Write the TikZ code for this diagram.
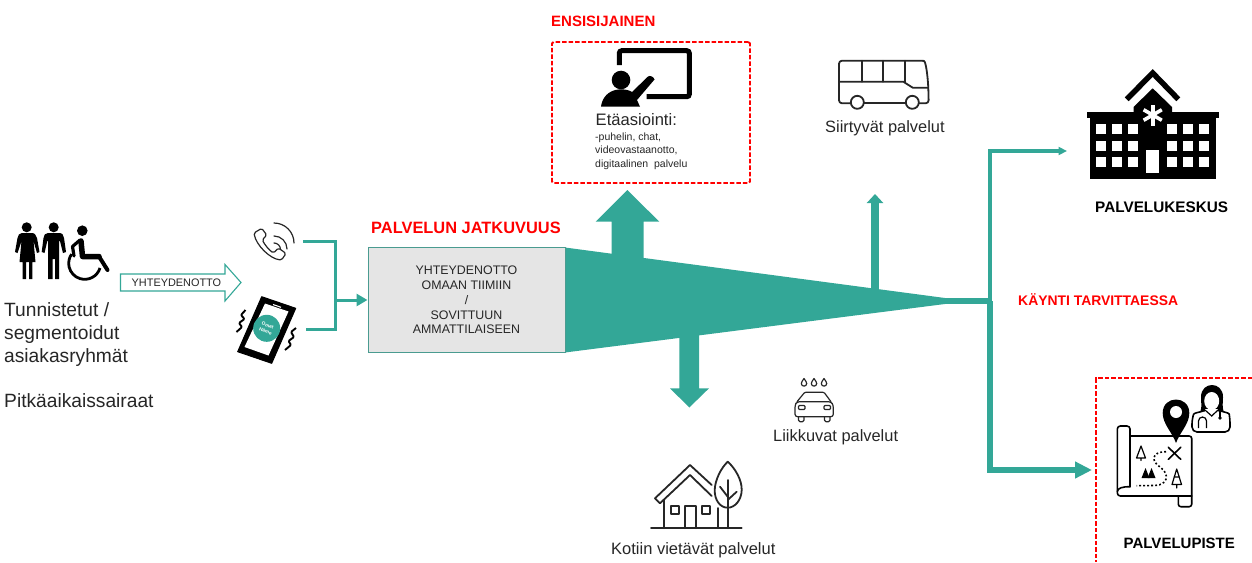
\documentclass[tikz,border=0pt]{standalone}
\usepackage{fontspec}
\setmainfont{Liberation Sans}
\usetikzlibrary{arrows.meta}
\definecolor{tealc}{HTML}{33A797}
\definecolor{txt}{HTML}{262626}
\definecolor{redc}{HTML}{FF0000}
\newcommand{\fsz}[2]{\fontsize{#1}{#2}\selectfont}
\tikzset{
  lbl/.style={inner sep=0pt,anchor=base west,text=txt},
  redlbl/.style={inner sep=0pt,anchor=base west,text=redc,font=\bfseries},
  blacklbl/.style={inner sep=0pt,anchor=base west,text=black,font=\bfseries},
  conn/.style={draw=tealc,line width=#1,line join=miter},
  reddash/.style={draw=redc,line width=1.9,dash pattern=on 4.5 off 2},
  ico/.style={draw=black,line width=1.6,line join=round,line cap=round},
  icothin/.style={draw=txt,line width=1.2,line join=round,line cap=round},
  icomid/.style={draw=txt,line width=1.8,line join=round,line cap=round},
}
\begin{document}
\begin{tikzpicture}[x=1pt,y=-1pt]
\useasboundingbox (0,0) rectangle (1252,562);

% ---------- left texts
\node[lbl,font=\fsz{19.2}{23}] (t1) at (4,316) {Tunnistetut /};
\node[lbl,font=\fsz{19.2}{23}] (t2) at (4,339) {segmentoidut};
\node[lbl,font=\fsz{19.2}{23}] (t3) at (4,362) {asiakasryhmät};
\node[lbl,font=\fsz{19.2}{23}] (t4) at (4,407) {Pitkäaikaissairaat};

% ---------- people
\fill[black] (26.7,227.3) circle (5);
\fill[black] (22,233) -- (31.5,233) .. controls (35,233) and (36,235) .. (37,238) -- (39.5,252) -- (37,253) -- (33.5,241) -- (35.5,262) -- (32.3,262) -- (32.3,279) -- (29,279) -- (29,262) -- (26,262) -- (26,279) -- (22.7,279) -- (22.7,262) -- (19.5,262) -- (21.5,241) -- (17.5,253) -- (15,252) -- (17.5,238) .. controls (18,235) and (19.5,233) .. (22,233) -- cycle;
\fill[black] (53.7,227.3) circle (5);
\fill[black] (48,233) -- (59,233) .. controls (62.5,233) and (63.5,235) .. (64,238) -- (66,252) -- (63,253) -- (60,241) -- (59,241) -- (59,279) -- (55,279) -- (55,259) -- (52.5,259) -- (52.5,279) -- (48,279) -- (48,241) -- (47.3,241) -- (44.5,253) -- (41.7,252) -- (43.5,238) .. controls (44,235) and (45,233) .. (48,233) -- cycle;
\fill[black] (82.3,230.7) circle (5.3);
\draw[black,line width=5.5,line join=round,line cap=round] (81,241) -- (82.5,256.5) -- (99,256.5);
\draw[black,line width=4,line join=round,line cap=round] (99,256.5) -- (107.5,270);
\draw[black,line width=3.2,line join=round,line cap=round] (80,240) -- (72.5,246.5) -- (74,256);
\draw[black,line width=2.8] (100,268) arc (17:215:16);

% ---------- contact arrow
\draw[draw=tealc,fill=white,line width=1.1] (120.5,274) -- (225,274) -- (225,264.5) -- (241,282.5) -- (225,301) -- (225,291) -- (120.5,291) -- cycle;
\node[lbl,font=\fsz{10.9}{13}] (ytd) at (131.5,286.5) {YHTEYDENOTTO};

% ---------- phone
\draw[icothin,rounded corners=1.6] (261.7,228.3) -- (266.7,235) -- (262.3,240) .. controls (265,245) and (269,250) .. (273.5,253) -- (278.5,248) -- (286,253.5) -- (281.5,260) .. controls (270,259) and (256,245) .. (254,233) -- cycle;
\draw[icothin] (274,243) arc (270:360:6.5);
\draw[icothin] (274,236) arc (270:360:13);
\draw[icothin] (274,223) arc (270:360:20);

% ---------- smartphone
\draw[black,fill=black,line width=1,line join=round] (261.7,296.7) -- (295.7,308.3) -- (271.7,363.3) -- (237.7,351.7) -- cycle;
\fill[white] (265,303.5) -- (288.5,311.5) -- (268.5,355.5) -- (244.5,347) -- cycle;
\draw[white,line width=1.1] (273,304.5) -- (281,307.3);
\fill[tealc] (266.7,328.3) circle (13.5);
\node[inner sep=0pt,rotate=-20,text=white,align=center,font=\fsz{4.8}{6.4}\bfseries] (omat) at (266.7,328.3) {Omat\\Häme};
\draw[black,line width=1.9,line join=round,rounded corners=1] (245.5,310) -- (241,315) -- (244.5,319) -- (239,323) -- (242,327) -- (236.5,332);
\draw[black,line width=1.9,line join=round,rounded corners=1] (296,328) -- (291,332) -- (294,337) -- (288.5,341) -- (291,345) -- (285,350);

% ---------- main box and wedge
\fill[tealc] (565,247.5) -- (945,298) -- (945,304) -- (565,352.5) -- cycle;
\node[draw=tealc!70!gray,line width=1,fill=black!10,minimum width=197,minimum height=105.5,inner sep=0pt,text=txt,align=center,font=\fsz{12.4}{14.8}] (box) at (466.5,300) {YHTEYDENOTTO\\OMAAN TIIMIIN\\/\\SOVITTUUN\\AMMATTILAISEEN};
\node[redlbl,font=\fsz{16.4}{19}\bfseries] (pj) at (371,233) {PALVELUN JATKUVUUS};

% ---------- bracket connector
\coordinate (ph) at (303,241.5);
\coordinate (sm) at (306,329);
\coordinate (jn) at (335.7,300);
\draw[conn=3] (ph) -| (jn);
\draw[conn=3] (sm) -| (jn);
\draw[conn=3,-{Triangle[length=11pt,width=12pt]}] (jn) -- (box.west);

% ---------- big arrows from wedge
\fill[tealc] (611.7,258) -- (611.7,221.7) -- (595.7,221.7) -- (627.3,190) -- (659.3,221.7) -- (643.7,221.7) -- (643.7,258) -- cycle;
\fill[tealc] (679.3,330) -- (679.3,388.3) -- (670,388.3) -- (689.3,407.5) -- (709,388.3) -- (699,388.3) -- (699,330) -- cycle;
\coordinate (w3) at (875,292);
\coordinate (w3t) at (875,194);
\draw[conn=8,-{Triangle[length=9pt,width=16pt]}] (w3) -- (w3t);

% ---------- right connectors
\coordinate (wt) at (940,301);
\coordinate (sp) at (989.5,301);
\coordinate (hs) at (1067,151);
\coordinate (pp) at (1092,470);
\draw[conn=6] (wt) -- (992,301);
\draw[conn=3.5,-{Triangle[length=8.5pt,width=8pt]}] (990,303) |- (hs);
\draw[conn=6,-{Triangle[length=17pt,width=16pt]}] (sp) |- (pp);

% ---------- red labels and dashed frames
\node[redlbl,font=\fsz{15}{18}\bfseries] (en) at (551,26) {ENSISIJAINEN};
\node[reddash,rounded corners=1.5,minimum width=198,minimum height=141,inner sep=0pt] (rf) at (651,112.5) {};
\node[redlbl,font=\fsz{13.9}{16}\bfseries] (ka) at (1018,305) {KÄYNTI TARVITTAESSA};
\coordinate (rc1) at (1252,378.3);
\coordinate (rc2) at (1095.7,562);
\draw[reddash] (rc1) -| (rc2);

% ---------- presentation icon
\draw[black,line width=5,line cap=butt,rounded corners=2.5] (619.3,65) -- (619.3,50.7) -- (689.3,50.7) -- (689.3,96.7) -- (646.7,96.7);
\fill[black] (621,80) circle (9.3);
\fill[black] (601,106.7) .. controls (602,98) and (608,90) .. (620,89.3) .. controls (625,89.3) and (629,90) .. (632,92) -- (648,76.5) .. controls (650,75) and (654,77) .. (654.5,79.5) -- (637,100) -- (640,106.7) -- cycle;
\node[lbl,font=\fsz{16.6}{20}] (et) at (595.5,125) {Etäasiointi:};
\node[lbl,font=\fsz{10.5}{14}] (et1) at (595,140) {-puhelin, chat,};
\node[lbl,font=\fsz{10.5}{14}] (et2) at (595,153.5) {videovastaanotto,};
\node[lbl,font=\fsz{10.5}{14}] (et3) at (595,167) {digitaalinen\ \ palvelu};

% ---------- bus
\draw[icomid,rounded corners=3] (850.5,103.3) -- (839,103.3) -- (839,60.7) -- (921,60.7) .. controls (925,61) and (927,68) .. (928.3,87.7) -- (928.7,103.3) -- (919,103.3);
\draw[icomid] (864,103.3) -- (905.5,103.3);
\draw[icomid] (857.3,102.3) circle (6.5);
\draw[icomid] (912.3,102.3) circle (6.5);
\draw[icomid] (839,81.7) -- (903.3,81.7) -- (912.7,87.7) -- (928,87.7);
\draw[icomid] (861.7,60.7) -- (861.7,81.7);
\draw[icomid] (883.3,60.7) -- (883.3,81.7);
\draw[icomid] (905,60.7) -- (905,81.7);
\node[lbl,font=\fsz{16.4}{20}] (bt) at (825,132.5) {Siirtyvät palvelut};

% ---------- car
\foreach \dx in {804,814,824}{
  \draw[icothin] (\dx,378.5) .. controls (\dx-1.5,381) and (\dx-2.7,382) .. (\dx-2.7,383.5) .. controls (\dx-2.7,387) and (\dx+2.7,387) .. (\dx+2.7,383.5) .. controls (\dx+2.7,382) and (\dx+1.5,381) .. (\dx,378.5) -- cycle;
}
\draw[icothin,rounded corners=2.5] (795,416.7) -- (795,405) -- (797,401.7) -- (831,401.7) -- (833.3,405) -- (833.3,416.7) -- cycle;
\draw[icothin,rounded corners=1] (797,401.7) -- (804.7,392.3) -- (824,392.3) -- (831,401.7);
\draw[icothin,rounded corners=1] (798.5,405.5) -- (805,405.5) -- (805,409.5) -- (798.5,409.5) -- cycle;
\draw[icothin,rounded corners=1] (824,405.5) -- (830.5,405.5) -- (830.5,409.5) -- (824,409.5) -- cycle;
\draw[icothin,rounded corners=1.5] (798.5,416.7) -- (798.5,421.7) -- (804,421.7) -- (804,416.7);
\draw[icothin,rounded corners=1.5] (824.5,416.7) -- (824.5,421.7) -- (830,421.7) -- (830,416.7);
\node[lbl,font=\fsz{16.4}{20}] (ct) at (773,441) {Liikkuvat palvelut};

% ---------- house
\draw[icomid] (651,528.3) -- (741.7,528.3);
\draw[icomid] (711.7,485) -- (690,465) -- (655,498.3) -- (660,503.3) -- (690,475) -- (711.7,496);
\draw[icomid] (664,499.5) -- (664,528.3);
\draw[icomid] (717.7,508) -- (717.7,528.3);
\draw[icomid] (685,528.3) -- (685,506) -- (696,506) -- (696,528.3);
\draw[icomid] (670.7,506) rectangle (679.3,514);
\draw[icomid] (701.7,506) rectangle (710,514);
\draw[icomid] (727.7,461.7) .. controls (735,468) and (742,480) .. (741.7,490) .. controls (741.5,500) and (735,507.7) .. (727.7,507.7) .. controls (720,507.7) and (714.5,500) .. (714.7,490) .. controls (715,480) and (721,468) .. (727.7,461.7) -- cycle;
\draw[icomid] (727.7,480) -- (727.7,528.3);
\draw[icomid] (720,486.7) -- (727.7,496.7);
\draw[icomid] (736.7,491.7) -- (727.7,500);
\node[lbl,font=\fsz{16.5}{20}] (kt) at (611,554) {Kotiin vietävät palvelut};

% ---------- hospital
\draw[black,line width=5.5,line cap=butt,line join=miter] (1126.7,99.3) -- (1152.7,73) -- (1178.3,99.3);
\fill[black] (1133.5,112) -- (1133.5,107) -- (1152.7,88.3) -- (1172,107) -- (1172,112) -- cycle;
\fill[black] (1086.7,111.7) rectangle (1219.3,118.3);
\fill[black] (1090,118.3) rectangle (1216,179.3);
\foreach \wx in {1096,1112.3,1128.3,1167.3,1183.3,1199.3}{
  \foreach \wy in {124.3,140.7,157}{
    \fill[white] (\wx,\wy) rectangle +(10,10);
  }
}
\fill[white] (1146,150) rectangle (1159.3,173.3);
\foreach \a in {90,30,150}{
  \draw[white,line width=3.6] (1152.7,115) ++(\a:10.5) -- ++(\a+180:21);
}
\node[blacklbl,font=\fsz{15.3}{18}\bfseries] (ps) at (1095,212) {PALVELUKESKUS};

% ---------- map
\draw[ico,rounded corners=3] (1130,486.7) -- (1130,426) -- (1117.3,426) -- (1117.3,496) -- (1178.3,496);
\draw[ico] (1117.3,491.5) .. controls (1118,488) and (1122,486.7) .. (1130,486.7);
\draw[ico,rounded corners=2.5] (1130,436) -- (1191.7,436) -- (1191.7,506.7) -- (1178.3,506.7) -- (1178.3,496);
\draw[ico] (1178.3,496) -- (1191.7,496);
\draw[ico] (1168.3,447.3) -- (1180.7,459.3);
\draw[ico] (1180.7,447.3) -- (1168.3,459.3);
\draw[ico,dash pattern=on 1.8 off 2.2,line cap=butt] (1166,451.7) .. controls (1150,452) and (1152,462) .. (1160,467) .. controls (1170,474) and (1168,485) .. (1155,485.5) -- (1136.7,485.7);
\draw[ico,line width=1.2] (1141,446) -- (1145.5,458) -- (1136.5,458) -- cycle (1141,458) -- (1141,460.5);
\draw[ico,line width=1.2] (1176.7,469) -- (1181.5,484.5) -- (1172,484.5) -- cycle (1176.7,484.5) -- (1176.7,488) (1174,477) -- (1179.5,477);
\fill[black] (1145.5,468) -- (1149.5,478) -- (1141.5,478) -- cycle;
\fill[black] (1151.5,468) -- (1155.5,478) -- (1147.5,478) -- cycle;
% pin
\fill[black] (1176,443) .. controls (1172,432) and (1162.7,424) .. (1162.7,413) .. controls (1162.7,395) and (1189.3,395) .. (1189.3,413) .. controls (1189.3,424) and (1180,432) .. (1176,443) -- cycle;
\fill[white] (1176,412) circle (6);

% ---------- doctor
\draw[black,fill=white,line width=1.6,rounded corners=5] (1192,432) -- (1192,419) .. controls (1194,413) and (1200,412) .. (1205,410) -- (1218,410) .. controls (1224,412) and (1229,413) .. (1230,419) -- (1230,432) -- cycle;
\fill[black] (1200.5,411) .. controls (1202,407) and (1201,402) .. (1201,397) .. controls (1201,381) and (1223,381) .. (1223,397) .. controls (1223,402) and (1222,407) .. (1223.5,411) -- cycle;
\fill[white] (1211.7,401) ellipse (7.5 and 9);
\fill[white] (1205,409) rectangle (1218,415);
\draw[black,line width=1.2] (1205,410) -- (1211.7,416) -- (1218,410);
\draw[black,line width=1.2] (1198.5,428) -- (1198.5,421) arc (180:360:4) -- (1206.5,428);
\draw[black,line width=1.2] (1220,411) -- (1220,418);
\fill[black] (1220,418) circle (1.8);

\node[blacklbl,font=\fsz{15}{18}\bfseries] (pv) at (1123.5,548) {PALVELUPISTE};
\end{tikzpicture}
\end{document}
